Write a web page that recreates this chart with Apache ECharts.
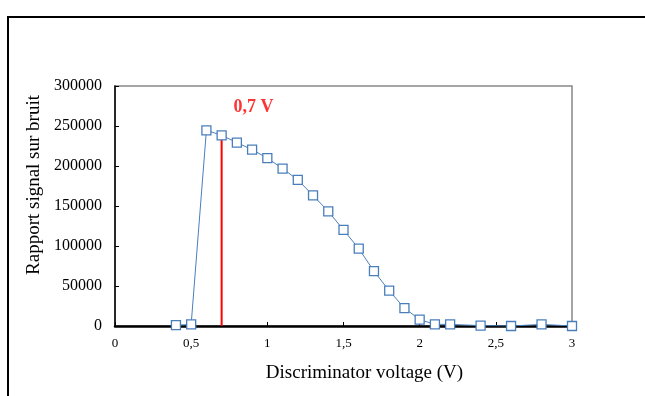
<!DOCTYPE html>
<html>
<head>
<meta charset="utf-8">
<script src="https://cdn.jsdelivr.net/npm/echarts@6/dist/echarts.min.js"></script>
<style>html,body{margin:0;padding:0;background:#fff}#c{width:645px;height:396px}</style>
</head>
<body>
<div id="c"></div>
<script>
var voltages = [0.4, 0.5, 0.6, 0.7, 0.8, 0.9, 1.0, 1.1, 1.2, 1.3, 1.4, 1.5, 1.6, 1.7, 1.8, 1.9, 2.0, 2.1, 2.2, 2.4, 2.6, 2.8, 3.0];
var snr = [1000, 2000, 244600, 238400, 229200, 220500, 209800, 196800, 182700, 163200, 143300, 120100, 96800, 68500, 44100, 22400, 8000, 2000, 2000, 500, 0, 2000, 0];
var markerV = 0.7;
var markerTop = 238400;
var markerText = '0,7 V';
var xTitle = 'Discriminator voltage (V)';
var yTitle = 'Rapport signal sur bruit';

var chart = echarts.init(document.getElementById('c'), null, {renderer: 'canvas'});
var font = 'Liberation Serif';
var pts = voltages.map(function (v, i) { return [v, snr[i]]; });
chart.setOption({
  animation: false,
  backgroundColor: '#fff',
  graphic: [{
    type: 'rect', shape: {x: 8, y: 17, width: 800, height: 600},
    style: {fill: 'none', stroke: '#000', lineWidth: 2}, silent: true, z: 100
  }],
  grid: {left: 115, right: 73, top: 86, bottom: 70, show: true, borderColor: '#888', borderWidth: 1.5, backgroundColor: 'transparent'},
  xAxis: {
    type: 'value', min: 0, max: 3, interval: 0.5,
    name: xTitle, nameLocation: 'middle', nameGap: 38,
    nameTextStyle: {fontFamily: font, fontSize: 19, color: '#000', padding: [0, 0, 0, 42]},
    axisLine: {show: true, lineStyle: {color: '#000', width: 2.5}},
    axisTick: {show: true, inside: true, length: 4, lineStyle: {color: '#000'}},
    axisLabel: {fontFamily: font, fontSize: 13, color: '#000', margin: 11,
      formatter: function (v) { return String(v).replace('.', ','); }},
    splitLine: {show: false}
  },
  yAxis: {
    type: 'value', min: 0, max: 300000, interval: 50000,
    name: yTitle, nameLocation: 'middle', nameGap: 70, nameRotate: 90,
    nameTextStyle: {fontFamily: font, fontSize: 19, color: '#000', padding: [0, 0, 0, 42]},
    axisLine: {show: true, lineStyle: {color: '#000', width: 1.5}},
    axisTick: {show: true, inside: true, length: 4, lineStyle: {color: '#000'}},
    axisLabel: {fontFamily: font, fontSize: 16, color: '#000', margin: 13,
      formatter: function (v) { return String(v); }},
    splitLine: {show: false}
  },
  series: [{
    type: 'line', data: [[markerV, 0], [markerV, markerTop]],
    symbol: 'none', lineStyle: {color: '#ff0000', width: 2}, z: 2, silent: true
  }, {
    type: 'line', data: pts,
    symbol: 'rect', symbolSize: 9,
    itemStyle: {color: '#fff', borderColor: '#4a7ebb', borderWidth: 1.3},
    lineStyle: {color: '#4a7ebb', width: 1},
    z: 3
  }, {
    type: 'scatter', data: [[0.91, 273000]], symbolSize: 0,
    label: {show: true, position: 'inside', formatter: markerText,
      fontFamily: font, fontSize: 18, fontWeight: 'bold', color: '#ff0000'},
    silent: true
  }]
});
</script>
</body>
</html>
